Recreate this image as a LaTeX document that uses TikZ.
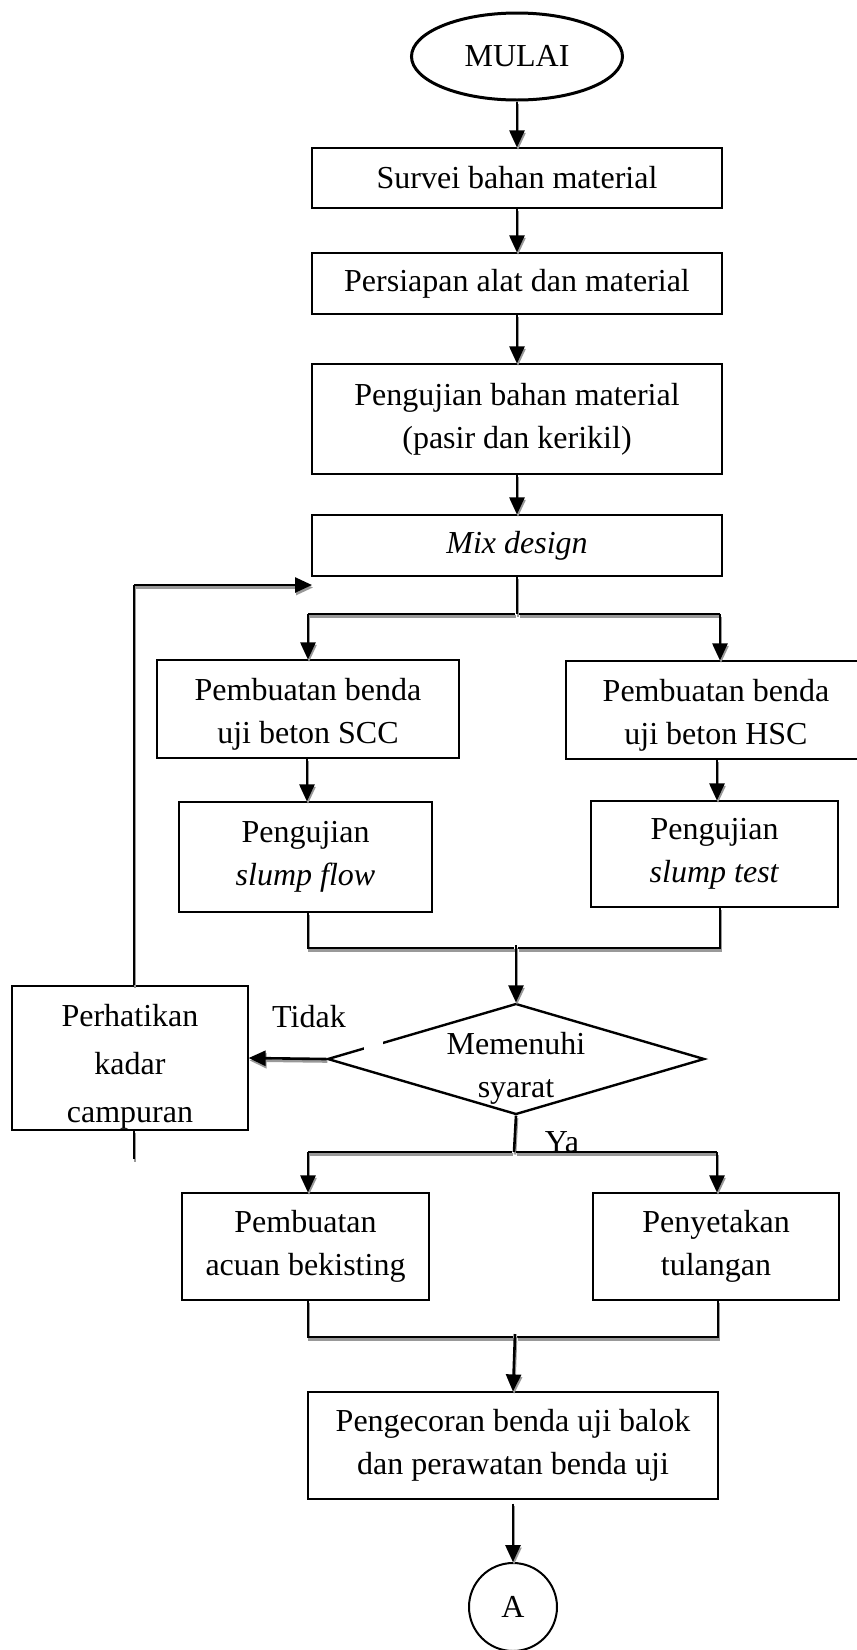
\documentclass[tikz,border=0pt]{standalone}
\usepackage{fontspec}
\setmainfont{Liberation Serif}
\usetikzlibrary{shapes.geometric,arrows.meta}
\begin{document}
\begin{tikzpicture}[x=1pt,y=-1pt,
  txt/.style={font=\fontsize{32}{43}\selectfont},
  box/.style={txt, draw, line width=1.2pt, rectangle, inner sep=0pt, align=center},
  conn/.style={line width=2.6pt, preaction={draw=black!40, line width=2.6pt, transform canvas={shift={(1pt,-2.5pt)}}}},
  arr/.style={line width=2.6pt, -{Triangle[length=17pt,width=15pt]},
    preaction={draw=black!40, line width=2.6pt, -{Triangle[length=17pt,width=15pt]}, transform canvas={shift={(1pt,-2.5pt)}}}},
  lab/.style={txt, inner sep=0pt, anchor=base}]
\useasboundingbox (0,0) rectangle (857,1650);

% nodes
\node[txt, draw, ellipse, line width=3pt, minimum width=211pt, minimum height=87pt] (start) at (517,56.5) {MULAI};
\node[box, minimum width=410pt, minimum height=60pt] (survei) at (517,178) {Survei bahan material};
\node[box, minimum width=410pt, minimum height=61pt] (persiapan) at (517,283.5) {Persiapan alat dan material};
\node[box, minimum width=410pt, minimum height=110pt] (uji) at (517,419) {Pengujian bahan material\\(pasir dan kerikil)};
\node[box, minimum width=410pt, minimum height=61pt] (mix) at (517,545.5) {\textit{Mix design}};
\node[box, minimum width=302pt, minimum height=98pt,
      label={[txt, align=center, yshift=-5pt]center:Pembuatan benda\\uji beton SCC}] (scc) at (308,709) {};
\node[box, minimum width=300pt, minimum height=98pt,
      label={[txt, align=center, yshift=-5pt]center:Pembuatan benda\\uji beton HSC}] (hsc) at (716,710) {};
\node[box, minimum width=253pt, minimum height=110pt] (flow) at (305.5,857) {Pengujian\\\textit{slump flow}};
\node[box, minimum width=247pt, minimum height=106pt] (test) at (714.5,854) {Pengujian\\\textit{slump test}};
\node[draw, diamond, line width=2.4pt, inner sep=0pt, minimum width=377pt, minimum height=111pt,
      label={[txt, align=center, yshift=-9pt]center:Memenuhi\\syarat}] (dec) at (516,1059) {};
\node[box, minimum width=236pt, minimum height=144pt,
      label={[font=\fontsize{32}{48}\selectfont, align=center, yshift=-9pt]center:Perhatikan\\kadar\\campuran}] (perhat) at (130,1058) {};
\node[box, minimum width=247pt, minimum height=107pt] (acuan) at (305.5,1246.5) {Pembuatan\\acuan bekisting};
\node[box, minimum width=246pt, minimum height=107pt] (tulang) at (716,1246.5) {Penyetakan\\tulangan};
\node[box, minimum width=410pt, minimum height=107pt] (cor) at (513,1445.5) {Pengecoran benda uji balok\\dan perawatan benda uji};
\node[txt, draw, circle, line width=2pt, inner sep=0pt, minimum size=88pt] (A) at (513,1607) {A};

% labels
\node[lab] (tidak) at (309,1027) {Tidak};
\node[lab] (ya) at (562,1152) {Ya};

% gap in the diamond edge
\fill[white] (364,1037) rectangle (383,1052);

% coordinates
\coordinate (s1L) at (308,614);
\coordinate (s1C) at (517,614);
\coordinate (s1R) at (720,614);
\coordinate (m1L) at (308,948);
\coordinate (m1C) at (516,948);
\coordinate (m1R) at (720,948);
\coordinate (s2L) at (308,1152);
\coordinate (s2C) at (514,1152);
\coordinate (s2R) at (717,1152);
\coordinate (m2L) at (308,1337);
\coordinate (m2C) at (515,1337);
\coordinate (m2R) at (718,1337);
\coordinate (loopX) at (134,585);
\coordinate (loopEnd) at (312,585);
\coordinate (stub) at (134,1159);

% main column
\draw[arr] (start.south) -- (survei.north);
\draw[arr] (survei.south) -- (persiapan.north);
\draw[arr] (persiapan.south) -- (uji.north);
\draw[arr] (uji.south) -- (mix.north);

% first split
\draw[conn] (mix.south) -- (s1C);
\draw[conn] (s1L) -- ([xshift=-2pt]s1C);
\draw[conn] ([xshift=2pt]s1C) -- (s1R);
\draw[arr] (s1L) -- (s1L |- scc.north);
\draw[arr] (s1R) -- (s1R |- hsc.north);

\draw[arr] (307,0 |- scc.south) -- (307,0 |- flow.north);
\draw[arr] (717,0 |- hsc.south) -- (717,0 |- test.north);

% first merge
\draw[conn] (m1L |- flow.south) -- (m1L) -- ([xshift=-2pt]m1C);
\draw[conn] (m1R |- test.south) -- (m1R) -- ([xshift=2pt]m1C);
\draw[arr] ([yshift=3pt]m1C) -- (dec.north);

% decision
\draw[arr] (dec.west) -- (perhat.east);
\draw[conn] (perhat.north -| loopX) -- (loopX);
\draw[arr] (loopX) -- (loopEnd);
\draw[conn] (perhat.south -| stub) -- (stub);

% second split
\draw[conn] (dec.south) -- (s2C);
\draw[conn] (s2L) -- ([xshift=-2pt]s2C);
\draw[conn] ([xshift=2pt]s2C) -- (s2R);
\draw[arr] (s2L) -- (s2L |- acuan.north);
\draw[arr] (s2R) -- (s2R |- tulang.north);

% second merge
\draw[conn] (m2L |- acuan.south) -- (m2L) -- ([xshift=-2pt]m2C);
\draw[conn] (m2R |- tulang.south) -- (m2R) -- ([xshift=2pt]m2C);
\draw[arr] ([yshift=3pt]m2C) -- (cor.north);

\draw[arr] ([yshift=-4pt]cor.south) -- (A.north);
\end{tikzpicture}
\end{document}
